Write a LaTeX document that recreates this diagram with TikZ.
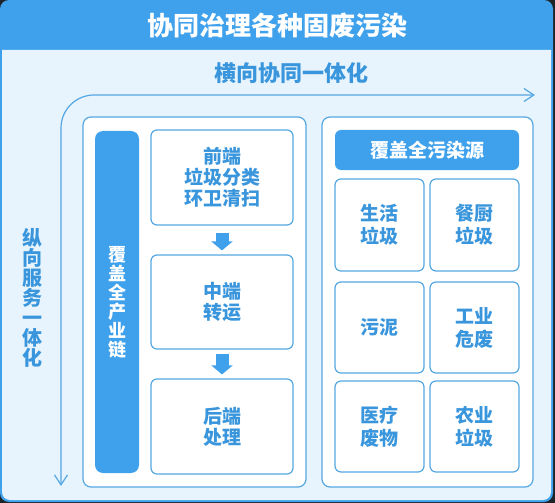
\documentclass[tikz,border=0pt]{standalone}
\usepackage{fontspec}
\setmainfont{Noto Sans CJK SC}
\usetikzlibrary{arrows.meta}
\definecolor{mainblue}{HTML}{3FA1EC}
\definecolor{lightbg}{HTML}{E7F4FD}
\definecolor{txtblue}{HTML}{3A96DC}
\definecolor{lineblue}{HTML}{55A7E2}
\definecolor{darkbg}{HTML}{1E2328}
\tikzset{
  panel/.style={draw=lineblue, line width=1.2pt, fill=white, rounded corners=8pt, inner sep=0pt},
  stagebox/.style={draw=lineblue, line width=1.2pt, fill=white, rounded corners=6pt, inner sep=0pt,
    minimum width=142pt, align=center, text=txtblue, font=\bfseries\fontsize{19}{21}\selectfont},
  srcbox/.style={draw=lineblue, line width=1.2pt, fill=white, rounded corners=6pt, inner sep=0pt,
    minimum width=89pt, align=center, text=txtblue, font=\bfseries\fontsize{19}{23}\selectfont},
  bluebar/.style={fill=mainblue, rounded corners=8pt, inner sep=0pt, align=center, text=white,
    font=\bfseries\fontsize{18}{19}\selectfont},
  axis/.style={draw=lineblue, line width=1.2pt, rounded corners=33pt,
    {Straight Barb[length=10pt,width=13pt]}-{Straight Barb[length=10pt,width=13pt]}},
  flowarrow/.style={draw=mainblue, line width=13pt, line cap=butt, -{Triangle[length=9pt,width=21pt]}}
}
\begin{document}
\begin{tikzpicture}[x=1pt,y=-1pt]
\useasboundingbox (0,0) rectangle (555,503);
\fill[darkbg] (0,0) rectangle (555,503);
% outer frame
\fill[mainblue, rounded corners=9pt] (0,0) rectangle (553,502);
\fill[lightbg] (2,50) -- (551,50) {[rounded corners=8pt] -- (551,500) -- (2,500)} -- cycle;
\node[text=white, font=\bfseries\fontsize{26}{28}\selectfont] (title) at (277,26) {协同治理各种固废污染};
\node[text=txtblue, font=\bfseries\fontsize{22}{24}\selectfont] (hlabel) at (291,73) {横向协同一体化};
\node[text=txtblue, align=center, font=\bfseries\fontsize{20}{20}\selectfont] (vlabel) at (33,298) {纵\\向\\服\\务\\一\\体\\化};
% axes
\coordinate (hend) at (535,95);
\coordinate (corner) at (61,95);
\coordinate (vend) at (61,486);
\draw[axis] (vend) -- (corner) -- (hend);
% panels
\node[panel, minimum width=223pt, minimum height=370pt] (lpanel) at (194.5,302) {};
\node[panel, minimum width=211pt, minimum height=370pt] (rpanel) at (427.5,302) {};
% left chain
\node[bluebar, minimum width=44pt, minimum height=342pt] (chain) at (117,302) {覆\\盖\\全\\产\\业\\链};
\node[stagebox, minimum height=95pt] (front) at (222,177.5) {前端\\垃圾分类\\环卫清扫};
\node[stagebox, minimum height=94pt] (mid) at (222,302) {中端\\转运};
\node[stagebox, minimum height=95pt] (back) at (222,426.5) {后端\\处理};
\draw[flowarrow] ([yshift=-7pt]front.south) -- ([yshift=4pt]mid.north);
\draw[flowarrow] ([yshift=-4pt]mid.south) -- ([yshift=4pt]back.north);
% right sources
\node[bluebar, minimum width=184pt, minimum height=40pt, rounded corners=6pt, font=\bfseries\fontsize{19}{21}\selectfont] (srchead) at (427,150) {覆盖全污染源};
\node[srcbox, minimum height=92pt] (s1) at (379.5,225) {生活\\垃圾};
\node[srcbox, minimum height=92pt] (s2) at (474.5,225) {餐厨\\垃圾};
\node[srcbox, minimum height=91pt] (s3) at (379.5,327.5) {污泥};
\node[srcbox, minimum height=91pt] (s4) at (474.5,327.5) {工业\\危废};
\node[srcbox, minimum height=91pt] (s5) at (379.5,426.5) {医疗\\废物};
\node[srcbox, minimum height=91pt] (s6) at (474.5,426.5) {农业\\垃圾};
\end{tikzpicture}
\end{document}
